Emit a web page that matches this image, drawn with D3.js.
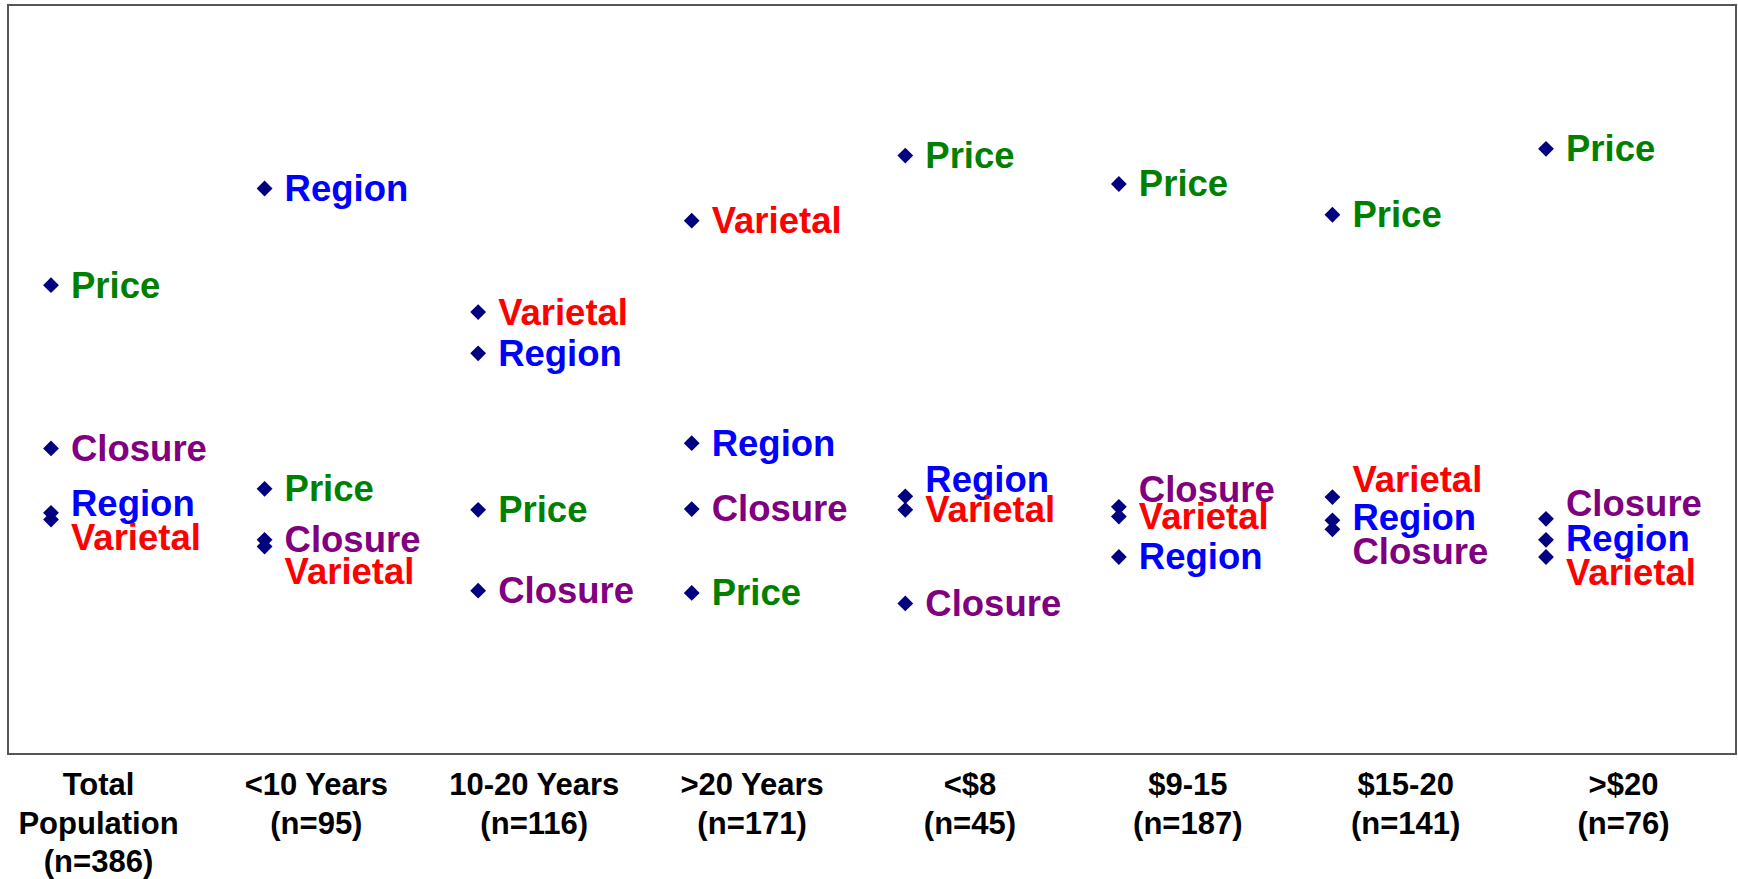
<!DOCTYPE html>
<html>
<head>
<meta charset="utf-8">
<script src="https://cdn.jsdelivr.net/npm/d3@7"></script>
<style>
  body { margin: 0; background: #fff; }
  svg { display: block; font-family: "Liberation Sans", Arial, sans-serif; font-weight: bold; }
</style>
</head>
<body>
<div id="chart"></div>
<script>
// categories along the bottom, with sample sizes
const categories = ["Total Population", "<10 Years", "10-20 Years", ">20 Years", "<$8", "$9-15", "$15-20", ">$20"];
const counts = [386, 95, 116, 171, 45, 187, 141, 76];

// series values (importance index, 0-100)
const price    = [62.6, 35.4, 32.6, 21.5, 79.9, 76.1, 72.0, 80.8];
const closure  = [40.8, 28.6, 21.8, 32.7, 20.1, 33.0, 30.0, 31.4];
const region   = [32.2, 75.5, 53.5, 41.5, 34.4, 26.3, 31.2, 28.6];
const varietal = [31.3, 27.7, 59.0, 71.2, 32.6, 31.7, 34.3, 26.3];

// where each data label sits (same units); null = next to its point
const priceLabel    = [null, null, null, null, null, null, null, null];
const closureLabel  = [null, null, null, null, null, 35.3, 27.0, 33.4];
const regionLabel   = [33.4, null, null, null, 36.6, null, 31.6, 28.8];
const varietalLabel = [28.9, 24.3, null, null, null, null, 36.6, 24.2];

const seriesNames  = ["Price", "Closure", "Region", "Varietal"];
const seriesColors = ["#008000", "#800080", "#0000ff", "#ff0000"];
const seriesValues = [price, closure, region, varietal];
const seriesLabels = [priceLabel, closureLabel, regionLabel, varietalLabel];

const width = 1738, height = 879;
const frame = { left: 8, top: 5, right: 1736, bottom: 754 };

const svg = d3.select("#chart").append("svg")
  .attr("width", width)
  .attr("height", height);

const x = d3.scalePoint().domain(categories).range([51, 1546]);
const xLabel = d3.scalePoint().domain(categories).range([98, 1623]);
const y = d3.scaleLinear().domain([0, 100]).range([frame.bottom, frame.top]);

// plot frame
svg.append("rect")
  .attr("x", frame.left)
  .attr("y", frame.top)
  .attr("width", frame.right - frame.left)
  .attr("height", frame.bottom - frame.top)
  .attr("fill", "none")
  .attr("stroke", "#555")
  .attr("stroke-width", 2);

// --- category axis ---
const axis = svg.append("g")
  .attr("transform", `translate(0,${frame.bottom})`)
  .call(d3.axisBottom(xLabel).tickSize(0));
axis.select(".domain").remove();

axis.selectAll(".tick text")
  .attr("fill", "#000")
  .style("font-size", "31px")
  .style("font-family", "'Liberation Sans', Arial, sans-serif")
  .style("font-weight", "bold")
  .each(function(d, i) {
    const text = d3.select(this);
    text.text(null).attr("y", 0).attr("dy", null);
    const words = d.split(" ");
    const lines = [];
    let line = [];
    const probe = text.append("tspan");
    words.forEach(w => {
      line.push(w);
      probe.text(line.join(" "));
      if (probe.node().getComputedTextLength() > 205 && line.length > 1) {
        line.pop();
        lines.push(line.join(" "));
        line = [w];
      }
    });
    lines.push(line.join(" "));
    probe.remove();
    lines.push(`(n=${counts[i]})`);
    lines.forEach((l, k) => {
      text.append("tspan")
        .attr("x", 0)
        .attr("y", 41 + k * 38.5)
        .text(l);
    });
  });

// --- points and labels ---
const rows = [];
seriesNames.forEach((name, s) => {
  categories.forEach((c, i) => {
    const v = seriesValues[s][i];
    const lv = seriesLabels[s][i];
    rows.push({ name, color: seriesColors[s], cat: c, value: v, labelValue: lv == null ? v : lv });
  });
});

const diamond = d3.symbol().type(d3.symbolSquare).size(125);

svg.append("g").selectAll("path")
  .data(rows)
  .join("path")
  .attr("d", diamond)
  .attr("transform", d => `translate(${x(d.cat)},${y(d.value)}) rotate(45)`)
  .attr("fill", "#000080");

svg.append("g").selectAll("text")
  .data(rows)
  .join("text")
  .attr("x", d => x(d.cat) + 20)
  .attr("y", d => y(d.labelValue))
  .attr("dy", "0.34em")
  .attr("fill", d => d.color)
  .style("font-size", "36.5px")
  .text(d => d.name);
</script>
</body>
</html>
